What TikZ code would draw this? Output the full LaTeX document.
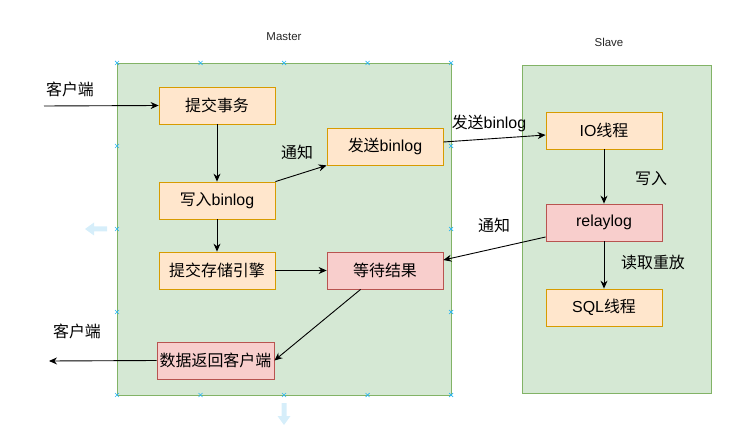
\documentclass[tikz,border=0pt]{standalone}
\usepackage{fontspec}
\setmainfont{Liberation Sans}
\newfontfamily\cjk{Noto Sans CJK SC}
\usetikzlibrary{arrows.meta,calc}
\definecolor{grfill}{HTML}{D5E8D4}
\definecolor{grdraw}{HTML}{82B366}
\definecolor{orfill}{HTML}{FFE6CC}
\definecolor{ordraw}{HTML}{D79B00}
\definecolor{pkfill}{HTML}{F8CECC}
\definecolor{pkdraw}{HTML}{B85450}
\definecolor{handle}{HTML}{29B6F2}
\definecolor{hover}{HTML}{D6EEFA}
\tikzset{
  group/.style={draw=grdraw,fill=grfill,line width=0.8bp,inner sep=0pt},
  obox/.style={draw=ordraw,fill=orfill,line width=0.8bp,minimum width=116bp,minimum height=37bp,inner sep=0pt,font=\fontsize{16}{18}\selectfont},
  pbox/.style={draw=pkdraw,fill=pkfill,line width=0.8bp,minimum width=116bp,minimum height=37bp,inner sep=0pt,font=\fontsize{16}{18}\selectfont},
  lbl/.style={inner sep=0pt,font=\fontsize{16}{18}\selectfont},
  ttl/.style={inner sep=0pt,font=\fontsize{11.5}{13}\selectfont,text=black!85},
  arr/.style={draw=black,line width=0.9bp,-{Stealth[length=8bp,width=7bp]}},
  hx/.style={draw=handle,line width=0.7bp},
}
\begin{document}
\begin{tikzpicture}[x=1bp,y=-1bp]
\useasboundingbox (0,0) rectangle (745,441);
% groups
\node[group,minimum width=334bp,minimum height=332bp] (master) at (284,229) {};
\node[group,minimum width=189bp,minimum height=328bp] (slave) at (616.5,229) {};
\node[ttl] (mt) at (284,37) {Master};
\node[ttl] (st) at (609,42) {Slave};
% boxes
\node[obox] (tj) at (217,105.5) {\cjk 提交事务};
\node[obox] (xr) at (217,200.5) {\cjk 写入\normalfont binlog};
\node[obox] (fs) at (385,146.5) {\cjk 发送\normalfont binlog};
\node[obox] (cc) at (217,270.5) {\cjk 提交存储引擎};
\node[pbox] (dd) at (385,270.5) {\cjk 等待结果};
\node[pbox,minimum width=117bp] (sj) at (215.5,360.5) {\cjk 数据返回客户端};
\node[obox] (io) at (604,130.5) {IO\cjk 线程};
\node[pbox] (rl) at (604,222.5) {relaylog};
\node[obox] (sql) at (604,307.5) {SQL\cjk 线程};
% labels
\node[lbl] (c1) at (70,89) {\cjk 客户端};
\node[lbl] (c2) at (77,331) {\cjk 客户端};
\node[lbl] (n1) at (297,152) {\cjk 通知};
\node[lbl] (l1) at (489,123) {\cjk 发送\normalfont binlog};
\node[lbl] (n2) at (494,225) {\cjk 通知};
\node[lbl] (l2) at (651,179) {\cjk 写入};
\node[lbl] (l3) at (653,262) {\cjk 读取重放};
% free ends
\coordinate (cin) at (44,106);
\coordinate (cout) at (49,361);
% connectors
\draw[arr] (cin) -- (tj.west);
\draw[arr] (tj.south) -- (xr.north);
\draw[arr] (xr.north east) -- (fs.south west);
\draw[arr] (xr.south) -- (cc.north);
\draw[arr] (cc.east) -- (dd.west);
\draw[arr] ($(dd.south west)+(34,0)$) -- (sj.east);
\draw[arr] (sj.west) -- (cout);
\draw[arr] ($(fs.east)+(0,-4.5)$) -- ($(io.west)+(0,4.5)$);
\draw[arr] ($(rl.west)+(0,14.5)$) -- ($(dd.east)+(0,-10.5)$);
\draw[arr] (io.south) -- (rl.north);
\draw[arr] (rl.south) -- (sql.north);
% selection handles
\foreach \px in {117,200.5,284,367.5,451} {
  \foreach \py in {63,395} {
    \draw[hx] (\px-2,\py-2) -- (\px+2,\py+2) (\px-2,\py+2) -- (\px+2,\py-2);
  }
}
\foreach \py in {146,229,312} {
  \foreach \px in {117,451} {
    \draw[hx] (\px-2,\py-2) -- (\px+2,\py+2) (\px-2,\py+2) -- (\px+2,\py-2);
  }
}
% hover arrows
\fill[hover] (107,226.5) -- (94,226.5) -- (94,222.5) -- (85,229) -- (94,235.5) -- (94,231.5) -- (107,231.5) -- cycle;
\fill[hover] (281.5,403) -- (281.5,416) -- (277.5,416) -- (284,425) -- (290.5,416) -- (286.5,416) -- (286.5,403) -- cycle;
\end{tikzpicture}
\end{document}
